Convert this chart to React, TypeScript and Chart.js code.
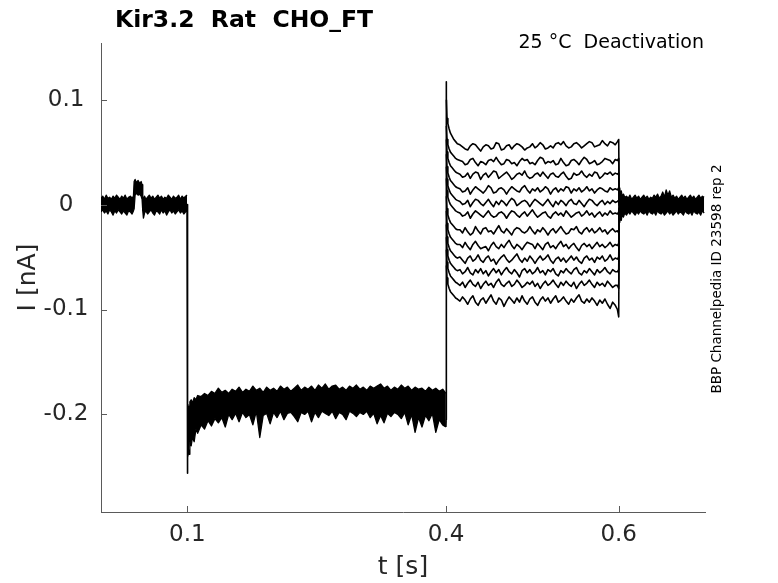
import React, { useEffect, useRef } from 'react';
import { Chart, registerables, Plugin } from 'chart.js';

Chart.register(...registerables);

// Axis ticks
const X_TICKS = [0.1, 0.4, 0.6];
const X_TICK_LABELS = ['0.1', '0.4', '0.6'];
const Y_TICKS = [-0.2, -0.1, 0, 0.1];
const Y_TICK_LABELS = ['-0.2', '-0.1', '0', '0.1'];

// All times in ms, currents in pA (converted to s / nA when plotted)

// Holding period before the step: envelope of the overlaid sweeps
const BASE_MS = [0, 2, 4, 6, 8, 10, 12, 14, 16, 18, 20, 22, 24, 26, 28, 30, 32, 34, 36,
  37.6, 38.4, 39.5, 41, 43, 45, 46.5, 47.6, 48.4, 49.2, 50.5,
  52, 54, 56, 58, 60, 62, 64, 66, 68, 70, 72, 74, 76, 78, 80, 82, 84, 86, 88, 90, 92, 94, 96, 98, 99.7];
const BASE_HI = [6, 8, 5, 9, 6, 7, 5, 8, 6, 9, 7, 5, 8, 6, 9, 5, 7, 8, 6,
  8, 22, 24, 21, 23, 20, 22, 19, 7, 6, 8,
  5, 7, 9, 6, 8, 5, 7, 9, 6, 8, 5, 7, 6, 9, 7, 5, 8, 6, 7, 9, 5, 8, 6, 8, 9];
const BASE_LO = [-7, -5, -8, -6, -9, -5, -7, -10, -6, -8, -5, -7, -9, -6, -8, -10, -6, -7, -9,
  -6, -4, 9, 11, 9, 10, 8, 5, -6, -13, -8,
  -6, -9, -7, -5, -8, -10, -6, -7, -9, -5, -8, -6, -10, -7, -5, -8, -6, -9, -7, -5, -8, -6, -9, -7, -6];

// Step to the hyperpolarising level at 0.1 s
const STEP_MS = [99.7, 100.0, 100.3, 100.6];
const STEP_PA = [-6, 0, -256, -215];

// Hyperpolarising plateau 0.1 - 0.4 s: envelope of the overlaid sweeps
const PLAT_MS = [100.6, 101.2, 102, 103, 104.5, 106, 108, 110, 112,
  116, 120, 124, 128, 132, 136, 140, 144, 148, 152,
  156, 160, 164, 168, 172, 176, 180, 184, 188, 192,
  196, 200, 204, 208, 212, 216, 220, 224, 228, 232,
  236, 240, 244, 248, 252, 256, 260, 264, 268, 272,
  276, 280, 284, 288, 292, 296, 300, 304, 308, 312,
  316, 320, 324, 328, 332, 336, 340, 344, 348, 352,
  356, 360, 364, 368, 372, 376, 380, 384, 388, 392,
  396, 399.7];
const PLAT_HI = [-190, -200, -192, -188, -186, -189, -184, -186, -182,
  -183, -180, -182, -178, -180, -175, -179, -177, -180, -176,
  -178, -174, -179, -176, -178, -173, -177, -175, -179, -174,
  -177, -175, -178, -173, -176, -174, -178, -175, -172, -177,
  -174, -176, -173, -177, -172, -175, -171, -176, -173, -172,
  -176, -174, -177, -173, -175, -172, -176, -174, -177, -173,
  -175, -173, -171, -175, -173, -177, -174, -176, -172, -175,
  -173, -177, -174, -176, -175, -178, -174, -177, -175, -178,
  -176, -180];
const PLAT_LO = [-240, -232, -238, -226, -230, -222, -226, -214, -218,
  -210, -214, -206, -211, -204, -208, -203, -212, -200, -205,
  -199, -207, -198, -203, -200, -210, -197, -222, -201, -199,
  -209, -198, -203, -197, -205, -199, -198, -202, -207, -198,
  -200, -197, -207, -198, -203, -197, -199, -201, -197, -204,
  -198, -200, -205, -197, -199, -202, -198, -200, -197, -203,
  -199, -209, -201, -208, -199, -202, -198, -200, -204, -198,
  -210, -200, -217, -203, -212, -201, -206, -199, -217, -205,
  -210, -212];

// Capacitive spike at 0.4 s
const SPIKE_MS = [399.7, 400.0, 400.15, 400.3];
const SPIKE_PA = [-212, -205, 117, 100];

// Test pulses 0.4 - 0.6 s, one sweep each
const TRACE_MS = [400.3, 401, 402, 403.5, 405, 407, 409, 411, 413,
  416, 419, 422, 425, 428, 431, 434, 437, 440, 443,
  446, 449, 452, 455, 458, 461, 464, 467, 470, 473,
  476, 479, 482, 485, 488, 491, 494, 497, 500, 503,
  506, 509, 512, 515, 518, 521, 524, 527, 530, 533,
  536, 539, 542, 545, 548, 551, 554, 557, 560, 563,
  566, 569, 572, 575, 578, 581, 584, 587, 590, 593,
  596, 598.5, 600, 600.6];

const SWEEP_1 = [100, 82, 77, 72, 68, 65, 62, 60, 58,
  57, 55, 53, 52, 56, 58, 57, 54, 51, 55, 57, 56, 53, 54, 59, 58, 52, 53, 56, 57,
  53, 56, 58, 57, 55, 52, 54, 55, 58, 54, 56, 59, 57, 53, 54, 56, 54, 58, 59, 57,
  60, 56, 54, 55, 58, 59, 57, 54, 56, 58, 60, 59, 55, 56, 57, 61, 58, 56, 60, 59,
  57, 60, 62, -2];
const SWEEP_2 = [75, 62, 57, 53, 50, 48, 46, 44, 43,
  42, 41, 38, 39, 43, 44, 40, 37, 41, 40, 38, 42, 43, 41, 45, 41, 38, 39, 43, 42,
  39, 40, 37, 41, 44, 42, 43, 39, 40, 38, 42, 45, 44, 39, 41, 40, 42, 38, 39, 44,
  40, 37, 38, 42, 43, 41, 38, 42, 45, 43, 39, 40, 42, 38, 39, 41, 44, 43, 42, 39,
  43, 42, 44, -1];
const SWEEP_3 = [62, 50, 44, 40, 37, 35, 33, 31, 30,
  29, 26, 27, 30, 25, 29, 31, 30, 24, 28, 30, 26, 29, 32, 31, 25, 27, 29, 31, 28,
  24, 26, 29, 30, 28, 32, 27, 25, 26, 29, 30, 27, 31, 28, 25, 29, 30, 27, 26, 29,
  31, 27, 24, 25, 30, 28, 29, 32, 28, 26, 29, 27, 31, 30, 25, 27, 30, 29, 31, 28,
  30, 29, 30, -3];
const SWEEP_4 = [48, 36, 30, 26, 23, 21, 19, 17, 16,
  15, 12, 13, 16, 10, 14, 17, 15, 13, 11, 14, 18, 16, 11, 12, 15, 16, 14, 10, 14,
  17, 15, 13, 12, 16, 18, 14, 11, 15, 13, 16, 12, 14, 17, 15, 10, 14, 16, 12, 15,
  13, 17, 16, 11, 15, 13, 16, 12, 14, 17, 13, 15, 11, 14, 16, 15, 13, 12, 16, 14,
  15, 14, 16, -2];
const SWEEP_5 = [36, 24, 18, 14, 11, 9, 7, 5, 4,
  3, 0, 1, 4, -2, 2, 5, 4, 1, -1, 2, 5, 1, -2, 3, 0, 4, 2, -1, 3,
  6, 4, -1, 1, 3, 4, 2, -2, 2, 5, 3, 1, -1, 2, 5, 1, -2, 3, 0, 4,
  2, -1, 3, 5, 1, 0, 4, 1, -2, 2, 5, 4, 1, -1, 2, 4, 0, 3, 1, 4,
  2, 3, 4, 0];
const SWEEP_6 = [25, 13, 7, 3, 0, -2, -4, -6, -7,
  -8, -11, -10, -7, -13, -9, -6, -8, -10, -12, -9, -6, -10, -12, -11, -8, -7, -9, -13, -9,
  -6, -7, -10, -12, -9, -7, -11, -8, -5, -9, -12, -10, -8, -7, -11, -13, -9, -7, -10, -8,
  -11, -6, -9, -12, -10, -8, -7, -11, -9, -6, -10, -8, -12, -9, -7, -11, -8, -10, -6, -9,
  -8, -9, -7, -3];
const SWEEP_7 = [8, -4, -10, -14, -17, -19, -21, -23, -24,
  -24, -27, -22, -26, -29, -27, -21, -25, -28, -23, -22, -26, -25, -28, -24, -20, -25, -27, -23, -26,
  -29, -24, -22, -23, -26, -27, -25, -21, -25, -28, -24, -26, -22, -25, -29, -25, -23, -27, -24, -21,
  -25, -28, -27, -23, -24, -21, -26, -28, -24, -22, -26, -23, -27, -25, -22, -26, -24, -28, -25, -23,
  -26, -25, -27, -4];
const SWEEP_8 = [-6, -18, -24, -28, -31, -33, -35, -37, -38,
  -38, -41, -36, -40, -43, -38, -35, -39, -42, -41, -40, -44, -39, -36, -40, -42, -38, -41, -37, -34,
  -39, -42, -38, -40, -43, -39, -36, -37, -38, -42, -37, -40, -43, -38, -36, -41, -39, -42, -38, -35,
  -40, -38, -42, -39, -37, -41, -44, -39, -37, -40, -38, -42, -39, -36, -40, -38, -41, -39, -36, -40,
  -38, -39, -37, -2];
const SWEEP_9 = [-19, -31, -37, -41, -44, -46, -48, -50, -51,
  -50, -53, -56, -51, -49, -54, -52, -48, -53, -55, -51, -49, -54, -52, -57, -53, -50, -48, -52, -55,
  -53, -50, -47, -52, -55, -51, -54, -49, -52, -56, -52, -49, -53, -51, -48, -53, -56, -52, -50, -54,
  -51, -55, -52, -49, -53, -50, -54, -56, -51, -49, -53, -51, -55, -50, -52, -49, -54, -52, -48, -53,
  -51, -52, -50, -4];
const SWEEP_10 = [-31, -43, -49, -53, -56, -58, -60, -62, -63,
  -62, -66, -64, -60, -65, -67, -62, -65, -61, -66, -63, -68, -64, -61, -65, -62, -67, -63, -60, -64,
  -66, -62, -65, -69, -63, -61, -65, -62, -66, -64, -60, -65, -63, -67, -62, -64, -61, -66, -68, -63,
  -65, -61, -64, -66, -62, -60, -65, -67, -63, -65, -61, -64, -67, -62, -65, -63, -60, -64, -66, -62,
  -64, -64, -62, -3];
const SWEEP_11 = [-43, -55, -61, -65, -68, -70, -72, -74, -75,
  -77, -74, -79, -75, -72, -76, -78, -74, -80, -76, -73, -77, -75, -79, -74, -71, -76, -78, -75, -73,
  -78, -76, -72, -75, -79, -77, -74, -76, -73, -78, -75, -80, -76, -73, -77, -75, -72, -76, -79, -74,
  -77, -73, -76, -78, -74, -80, -76, -73, -77, -75, -72, -76, -79, -74, -77, -75, -78, -73, -76, -79,
  -77, -77, -80, -2];
const SWEEP_12 = [-58, -70, -76, -80, -83, -85, -87, -89, -90,
  -92, -88, -91, -95, -90, -87, -93, -96, -91, -89, -94, -90, -86, -92, -95, -89, -91, -97, -92, -88,
  -91, -94, -89, -93, -87, -92, -95, -90, -88, -93, -96, -91, -88, -92, -89, -94, -90, -87, -93, -91,
  -88, -92, -95, -90, -93, -89, -86, -92, -94, -90, -93, -89, -92, -96, -91, -94, -90, -95, -99, -93,
  -96, -100, -107, -3];
const SWEEPS = [SWEEP_1, SWEEP_2, SWEEP_3, SWEEP_4, SWEEP_5, SWEEP_6,
  SWEEP_7, SWEEP_8, SWEEP_9, SWEEP_10, SWEEP_11, SWEEP_12];

// Back to holding after 0.6 s: envelope of the overlaid sweeps
const POST_MS = [600.6, 601.2, 602, 603, 604, 605.5, 607,
  609, 611, 613, 615, 617, 619, 621, 623, 625, 627,
  629, 631, 633, 635, 637, 639, 641, 643, 645, 647,
  649, 651, 653, 655, 657, 659, 661, 663, 665, 667,
  669, 671, 673, 675, 677, 679, 681, 683, 685, 687,
  689, 691, 693, 695, 697, 699];
const POST_HI = [12, 16, 10, 13, 8, 10, 7,
  8, 6, 9, 5, 7, 9, 6, 8, 5, 7,
  9, 6, 8, 5, 7, 6, 9, 7, 10, 6,
  8, 12, 7, 14, 9, 13, 7, 9, 6, 8,
  5, 7, 9, 6, 8, 5, 7, 9, 6, 8,
  5, 7, 9, 6, 8, 7];
const POST_LO = [-14, -17, -11, -15, -9, -12, -8,
  -10, -7, -9, -6, -8, -10, -7, -9, -6, -8,
  -9, -7, -10, -6, -8, -9, -7, -10, -6, -8,
  -9, -7, -10, -8, -6, -9, -7, -10, -8, -6,
  -9, -7, -8, -10, -6, -8, -9, -7, -10, -6,
  -8, -9, -7, -10, -6, -8];

const FONT = '"DejaVu Sans", sans-serif';
const TEXT_COLOR = '#262626';
const AXIS_COLOR = '#5a5a5a';

const toPoints = (ms: number[], pa: number[]) =>
  ms.map((t, i) => ({ x: t / 1000, y: pa[i] / 1000 }));

const lineStyle = {
  borderColor: '#000',
  borderWidth: 1.3,
  pointRadius: 0,
  tension: 0,
  borderJoinStyle: 'round' as const,
};

const decorations: Plugin<'line'> = {
  id: 'decorations',
  afterDraw(chart) {
    const { ctx, chartArea, scales } = chart;
    ctx.save();
    // inward tick marks
    ctx.strokeStyle = AXIS_COLOR;
    ctx.lineWidth = 1;
    scales.x.ticks.forEach((t) => {
      const px = Math.round(scales.x.getPixelForValue(t.value)) + 0.5;
      ctx.beginPath();
      ctx.moveTo(px, chartArea.bottom);
      ctx.lineTo(px, chartArea.bottom - 6);
      ctx.stroke();
    });
    scales.y.ticks.forEach((t) => {
      const py = Math.round(scales.y.getPixelForValue(t.value)) + 0.5;
      ctx.beginPath();
      ctx.moveTo(chartArea.left, py);
      ctx.lineTo(chartArea.left + 6, py);
      ctx.stroke();
    });
    // title and annotations
    ctx.fillStyle = '#000';
    ctx.textBaseline = 'alphabetic';
    ctx.textAlign = 'left';
    ctx.font = `bold 23.5px ${FONT}`;
    ctx.fillText('Kir3.2  Rat  CHO_FT', 115, 27);
    ctx.font = `19px ${FONT}`;
    ctx.textAlign = 'right';
    ctx.fillText('25 °C  Deactivation', chartArea.right - 1, 48);
    ctx.font = `13.5px ${FONT}`;
    ctx.textAlign = 'center';
    ctx.textBaseline = 'middle';
    ctx.translate(717, 279);
    ctx.rotate(-Math.PI / 2);
    ctx.fillText('BBP Channelpedia ID 23598 rep 2', 0, 0);
    ctx.restore();
  },
};

const App: React.FC = () => {
  const canvasRef = useRef<HTMLCanvasElement | null>(null);

  useEffect(() => {
    if (!canvasRef.current) return;

    const datasets: any[] = [
      { ...lineStyle, data: toPoints(BASE_MS, BASE_HI), fill: '+1', backgroundColor: '#000' },
      { ...lineStyle, data: toPoints(BASE_MS, BASE_LO), fill: false },
      { ...lineStyle, data: toPoints(STEP_MS, STEP_PA), fill: false, borderWidth: 1.6 },
      { ...lineStyle, data: toPoints(PLAT_MS, PLAT_HI), fill: '+1', backgroundColor: '#000' },
      { ...lineStyle, data: toPoints(PLAT_MS, PLAT_LO), fill: false },
      { ...lineStyle, data: toPoints(SPIKE_MS, SPIKE_PA), fill: false, borderWidth: 1.6 },
      ...SWEEPS.map((s) => ({ ...lineStyle, data: toPoints(TRACE_MS, s), fill: false, borderWidth: 1.6 })),
      { ...lineStyle, data: toPoints(POST_MS, POST_HI), fill: '+1', backgroundColor: '#000' },
      { ...lineStyle, data: toPoints(POST_MS, POST_LO), fill: false },
    ];

    const chart = new Chart(canvasRef.current, {
      type: 'line',
      data: { datasets },
      options: {
        animation: false,
        responsive: true,
        maintainAspectRatio: false,
        layout: { padding: { left: 13, top: 43, right: 73, bottom: 0 } },
        plugins: {
          legend: { display: false },
          tooltip: { enabled: false },
          title: { display: false },
        },
        scales: {
          x: {
            type: 'linear',
            min: 0,
            max: 0.7,
            afterFit: (scale) => { scale.height = 71; },
            afterBuildTicks: (scale) => { scale.ticks = X_TICKS.map((v) => ({ value: v })); },
            grid: { display: false, drawTicks: false },
            border: { display: true, color: AXIS_COLOR, width: 1 },
            ticks: {
              padding: 9,
              maxRotation: 0,
              autoSkip: false,
              color: TEXT_COLOR,
              font: { family: FONT, size: 23 },
              callback: (_v, i) => X_TICK_LABELS[i],
            },
            title: {
              display: true,
              text: 't [s]',
              color: TEXT_COLOR,
              font: { family: FONT, size: 25 },
              padding: { top: 0, bottom: 1 },
            },
          },
          y: {
            type: 'linear',
            min: -0.293,
            max: 0.154,
            afterFit: (scale) => { scale.width = 88; },
            afterBuildTicks: (scale) => { scale.ticks = Y_TICKS.map((v) => ({ value: v })); },
            grid: { display: false, drawTicks: false },
            border: { display: true, color: AXIS_COLOR, width: 1 },
            ticks: {
              padding: 12.5,
              crossAlign: 'center',
              autoSkip: false,
              color: TEXT_COLOR,
              font: { family: FONT, size: 23 },
              callback: (_v, i) => Y_TICK_LABELS[i],
            },
            title: {
              display: true,
              text: 'I [nA]',
              color: TEXT_COLOR,
              font: { family: FONT, size: 25 },
              padding: { top: 0, bottom: 0 },
            },
          },
        },
      },
      plugins: [decorations],
    });

    return () => {
      chart.destroy();
    };
  }, []);

  return (
    <div style={{ position: 'absolute', left: 0, top: 0, width: 778, height: 583, background: '#fff' }}>
      <canvas ref={canvasRef} />
    </div>
  );
};

export default App;
